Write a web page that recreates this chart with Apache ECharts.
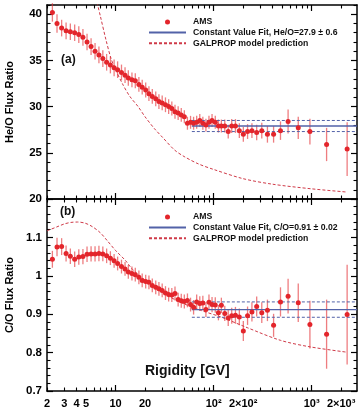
<!DOCTYPE html>
<html><head><meta charset="utf-8">
<script src="https://cdn.jsdelivr.net/npm/echarts@6/dist/echarts.min.js"></script>
<style>html,body{margin:0;padding:0;background:#fff}#c{width:363px;height:410px}</style>
</head><body><div id="c"></div>
<script>
// ---- data ----
const rigidity = [2.27,2.53,2.82,3.13,3.46,3.83,4.22,4.65,5.12,5.63,6.18,6.77,7.42,8.11,8.86,9.67,10.5,11.5,12.5,13.5,14.7,15.9,17.3,18.7,20.3,21.9,23.7,25.7,27.7,29.9,32.3,34.8,37.5,40.4,43.5,46.8,50.3,54.1,58.2,62.5,67.2,72.3,77.7,83.5,89.7,96.4,104,112,120,130,141,153,167,183,201,222,246,275,310,354,409,481,575,730,960,1420,2300];
const heO = [40.2,39.0,38.5,38.2,38.1,38.0,37.8,37.5,37.0,36.5,36.0,35.6,35.2,34.8,34.5,34.2,34.0,33.7,33.4,33.1,32.9,32.8,32.4,32.1,31.8,31.4,31.1,30.85,30.55,30.4,30.2,30.0,29.8,29.45,29.3,29.1,28.9,28.2,28.3,28.2,28.3,28.5,28.2,28.0,28.3,28.5,28.3,27.9,27.9,27.9,27.3,27.9,27.9,27.4,27.0,27.3,27.4,27.2,27.4,27.0,27.0,27.4,28.4,27.7,27.3,25.9,25.4];
const heOErr = [1.0,1.0,0.9,0.9,0.9,0.9,0.9,0.9,0.9,0.9,0.9,0.9,0.9,0.9,0.9,0.9,0.9,0.85,0.85,0.85,0.8,0.8,0.8,0.8,0.8,0.8,0.8,0.8,0.8,0.8,0.8,0.8,0.75,0.75,0.75,0.75,0.7,0.7,0.7,0.7,0.7,0.7,0.7,0.7,0.7,0.7,0.7,0.7,0.7,0.7,0.75,0.75,0.75,0.8,0.8,0.8,0.8,0.85,0.85,0.9,0.9,1.0,1.3,1.2,1.4,1.8,2.9];
const cO = [1.043,1.075,1.076,1.058,1.051,1.043,1.049,1.050,1.056,1.057,1.057,1.058,1.057,1.052,1.046,1.039,1.032,1.024,1.018,1.010,1.006,1.003,0.996,0.988,0.985,0.983,0.975,0.970,0.966,0.962,0.955,0.951,0.950,0.954,0.938,0.935,0.933,0.936,0.925,0.918,0.932,0.928,0.929,0.912,0.931,0.925,0.924,0.904,0.923,0.902,0.890,0.896,0.897,0.893,0.856,0.896,0.906,0.920,0.904,0.910,0.871,0.932,0.947,0.930,0.873,0.848,0.899];
const cOErr = [0.022,0.024,0.022,0.021,0.02,0.02,0.02,0.02,0.02,0.02,0.02,0.02,0.019,0.019,0.018,0.018,0.018,0.018,0.018,0.018,0.018,0.018,0.018,0.018,0.018,0.018,0.018,0.018,0.018,0.018,0.018,0.018,0.018,0.018,0.018,0.018,0.018,0.018,0.018,0.019,0.019,0.019,0.019,0.019,0.02,0.02,0.02,0.02,0.02,0.02,0.021,0.021,0.022,0.022,0.026,0.024,0.025,0.026,0.027,0.028,0.03,0.038,0.045,0.05,0.062,0.09,0.13];
const galHeR = [6.3,7,8,9,10,12,14,17,20,25,30,40,50,70,100,200,400,1000,2300];
const galHe  = [41.8,39.8,37.2,35.2,34.0,32.3,31.1,30.0,28.9,27.6,26.7,25.3,24.6,23.8,23.2,22.2,21.6,21.1,20.75];
const galCOR = [2,2.5,3,3.5,4.1,4.9,5.8,7,8.2,10,12.6,15,22,32,46,74,118,220,480,960,2300];
const galCO  = [1.117,1.127,1.135,1.139,1.140,1.137,1.128,1.112,1.092,1.066,1.040,1.016,0.980,0.952,0.931,0.910,0.893,0.865,0.832,0.815,0.801];
const heFit = 27.9, heFitErr = 0.6;
const coFit = 0.912, coFitErr = 0.02;
const fitRange = [60, 2900];
const xRange = [2, 2900];
const heRange = [20, 41];
const coRange = [0.7, 1.2];
const xMajorTicks = [10, 100, 1000];
const xMinorTicks = [2,3,4,5,6,7,8,9,20,30,40,50,60,70,80,90,200,300,400,500,600,700,800,900,2000];
const xLabelValues = [2,3,4,5,10,20,100,200,1000,2000];
const xLabelText = ['2','3','4','5','10','20','10²','2×10²','10³','2×10³'];
const heTickLabels = [20,25,30,35,40];
const heMinorTicks = [21,22,23,24,26,27,28,29,31,32,33,34,36,37,38,39,41];
const coTickLabels = [0.7,0.8,0.9,1,1.1];
const coMinorTicks = [0.72,0.74,0.76,0.78,0.82,0.84,0.86,0.88,0.92,0.94,0.96,0.98,1.02,1.04,1.06,1.08,1.12,1.14,1.16,1.18,1.2];
const heLegendFit = 'Constant Value Fit, He/O=27.9 ± 0.6';
const coLegendFit = 'Constant Value Fit, C/O=0.91 ± 0.02';

// ---- styling ----
const FONT = 'Liberation Sans, Arial, sans-serif';
const RED = '#e3252b';
const ERR = 'rgba(228,45,50,0.62)';
const GAL = '#cf3a48';
const BLUE = '#5262a8';

function xAxes(g, showLabels) {
  const base = {type:'log', logBase:10, gridIndex:g, min:xRange[0], max:xRange[1], splitLine:{show:false}};
  const lbl = {show:showLabels, customValues:xLabelValues, margin:7, color:'#000', fontFamily:FONT, fontWeight:'bold', fontSize:11,
    formatter: v => { const i = xLabelValues.findIndex(t => Math.abs(t - v) / t < 1e-6); return i >= 0 ? xLabelText[i] : ''; }};
  return [
    Object.assign({}, base, {position:'bottom', axisLine:{show:true, onZero:false, lineStyle:{color:'#000', width:1.5}},
      axisTick:{show:true, inside:true, length:6, customValues:xMajorTicks, lineStyle:{color:'#000', width:1.2}}, axisLabel:lbl}),
    Object.assign({}, base, {position:'top', axisLine:{show:true, onZero:false, lineStyle:{color:'#000', width:1.5}},
      axisTick:{show:true, inside:true, length:6, customValues:xMajorTicks, lineStyle:{color:'#000', width:1.2}}, axisLabel:{show:false}}),
    Object.assign({}, base, {position:'bottom', axisLine:{show:false, onZero:false},
      axisTick:{show:true, inside:true, length:3.5, customValues:xMinorTicks, lineStyle:{color:'#000', width:1.1}}, axisLabel:{show:false}}),
    Object.assign({}, base, {position:'top', axisLine:{show:false, onZero:false},
      axisTick:{show:true, inside:true, length:3.5, customValues:xMinorTicks, lineStyle:{color:'#000', width:1.1}}, axisLabel:{show:false}})
  ];
}
function yAxes(g, range, labels, minor, name) {
  const base = {type:'value', gridIndex:g, min:range[0], max:range[1], splitLine:{show:false}};
  return [
    Object.assign({}, base, {position:'left', name:name, nameLocation:'middle', nameGap:32,
      nameTextStyle:{fontFamily:FONT, fontWeight:'bold', fontSize:11, color:'#000'},
      axisLine:{show:true, onZero:false, lineStyle:{color:'#000', width:1.5}},
      axisTick:{show:true, inside:true, length:6, customValues:labels, lineStyle:{color:'#000', width:1.2}},
      axisLabel:{show:true, customValues:labels, margin:5, color:'#000', fontFamily:FONT, fontWeight:'bold', fontSize:11.5}}),
    Object.assign({}, base, {position:'right', axisLine:{show:true, onZero:false, lineStyle:{color:'#000', width:1.5}},
      axisTick:{show:true, inside:true, length:6, customValues:labels, lineStyle:{color:'#000', width:1.2}}, axisLabel:{show:false}}),
    Object.assign({}, base, {position:'left', axisLine:{show:false, onZero:false},
      axisTick:{show:true, inside:true, length:3.5, customValues:minor, lineStyle:{color:'#000', width:1.1}}, axisLabel:{show:false}}),
    Object.assign({}, base, {position:'right', axisLine:{show:false, onZero:false},
      axisTick:{show:true, inside:true, length:3.5, customValues:minor, lineStyle:{color:'#000', width:1.1}}, axisLabel:{show:false}})
  ];
}

function errData(vals, errs) { return rigidity.map((r, i) => [r, vals[i] - errs[i], vals[i] + errs[i]]); }
function errSeries(xi, yi, vals, errs) {
  return {type:'custom', xAxisIndex:xi, yAxisIndex:yi, z:2, data:errData(vals, errs), encode:{x:0, y:[1,2]},
    renderItem:(params, api) => {
      const a = api.coord([api.value(0), api.value(1)]);
      const b = api.coord([api.value(0), api.value(2)]);
      return {type:'line', shape:{x1:a[0], y1:a[1], x2:b[0], y2:b[1]}, style:{stroke:ERR, lineWidth:1.3}};
    }};
}
function fitSeries(xi, yi, v, dashed, name) {
  return {type:'line', name:name, xAxisIndex:xi, yAxisIndex:yi, symbol:'none', z:4,
    data:[[fitRange[0], v], [fitRange[1], v]],
    itemStyle:{color:BLUE},
    lineStyle:{color:BLUE, width:dashed ? 1 : 1.4, type:dashed ? [3,2] : 'solid'}};
}

const series = [
  // top panel
  {type:'line', name:'GALPROP model prediction', xAxisIndex:0, yAxisIndex:0, symbol:'none', smooth:0.3, z:1,
    data:galHeR.map((r,i)=>[r, galHe[i]]), itemStyle:{color:GAL}, lineStyle:{color:GAL, width:1, type:[3,2]}},
  fitSeries(0, 0, heFit, false, heLegendFit),
  fitSeries(0, 0, heFit + heFitErr, true, 'heUp'),
  fitSeries(0, 0, heFit - heFitErr, true, 'heLo'),
  errSeries(0, 0, heO, heOErr),
  {type:'scatter', name:'AMS', xAxisIndex:0, yAxisIndex:0, z:5, symbolSize:5, itemStyle:{color:RED, opacity:1},
    data:rigidity.map((r,i)=>[r, heO[i]])},
  // bottom panel
  {type:'line', name:'GALPROP model prediction', xAxisIndex:4, yAxisIndex:4, symbol:'none', smooth:0.3, z:1,
    data:galCOR.map((r,i)=>[r, galCO[i]]), itemStyle:{color:GAL}, lineStyle:{color:GAL, width:1, type:[3,2]}},
  fitSeries(4, 4, coFit, false, coLegendFit),
  fitSeries(4, 4, coFit + coFitErr, true, 'coUp'),
  fitSeries(4, 4, coFit - coFitErr, true, 'coLo'),
  errSeries(4, 4, cO, cOErr),
  {type:'scatter', name:'AMS', xAxisIndex:4, yAxisIndex:4, z:5, symbolSize:5, itemStyle:{color:RED, opacity:1},
    data:rigidity.map((r,i)=>[r, cO[i]])}
];

const legendBase = {orient:'vertical', left:148, itemWidth:37, itemHeight:5, itemGap:0.6, padding:0, selectedMode:false,
  textStyle:{fontFamily:FONT, fontWeight:'bold', fontSize:8.7, lineHeight:10, color:'#111', padding:[0,0,0,2]}};
const noDot = {opacity:0};

const chart = echarts.init(document.getElementById('c'), null, {renderer:'canvas'});
chart.setOption({
  animation:false,
  backgroundColor:'#fff',
  grid:[{left:47, right:6, top:5, height:194, containLabel:false, outerBoundsMode:'none'},
        {left:47, right:6, top:199, height:192, containLabel:false, outerBoundsMode:'none'}],
  xAxis:[...xAxes(0, false), ...xAxes(1, true)],
  yAxis:[...yAxes(0, heRange, heTickLabels, heMinorTicks, 'He/O Flux Ratio'),
         ...yAxes(1, coRange, coTickLabels, coMinorTicks, 'C/O Flux Ratio')],
  legend:[
    Object.assign({}, legendBase, {top:17, data:['AMS', {name:heLegendFit, itemStyle:noDot}, {name:'GALPROP model prediction', itemStyle:noDot}]}),
    Object.assign({}, legendBase, {top:212, data:['AMS', {name:coLegendFit, itemStyle:noDot}, {name:'GALPROP model prediction', itemStyle:noDot}]})
  ],
  title:[
    {text:'(a)', left:61, top:54, padding:0, textStyle:{fontFamily:FONT, fontWeight:'bold', fontSize:12, color:'#111'}},
    {text:'(b)', left:60, top:206, padding:0, textStyle:{fontFamily:FONT, fontWeight:'bold', fontSize:12, color:'#111'}},
    {text:'Rigidity [GV]', left:145, top:364, padding:0, textStyle:{fontFamily:FONT, fontWeight:'bold', fontSize:14, color:'#111'}}
  ],
  series:series
});
</script></body></html>
